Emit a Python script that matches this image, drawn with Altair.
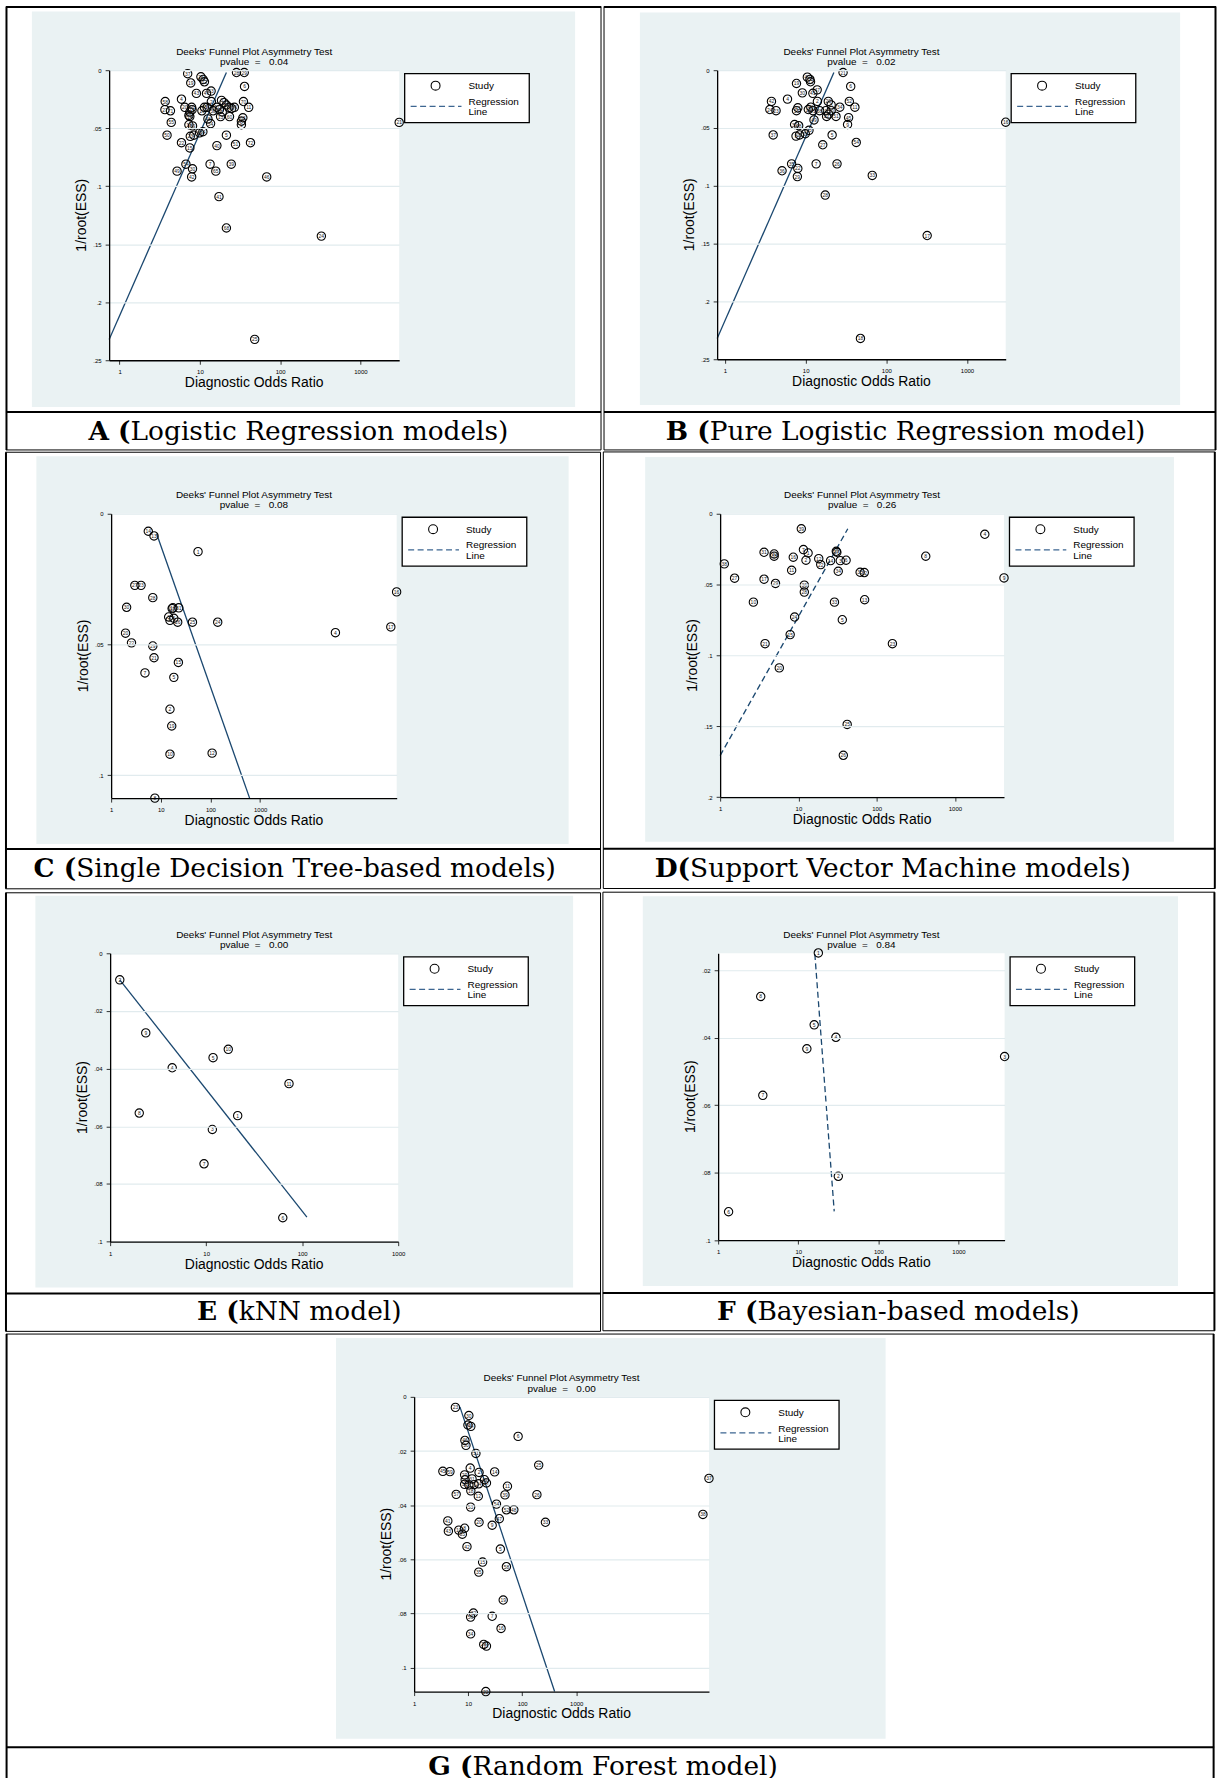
import altair as alt
import pandas as pd

# ------------------------------------------------------------------ data
X_TICKS = [1, 10, 100, 1000]

# A (Logistic Regression models)
A_study = ["37","28","29","26","62","12","19","6","43","53","47","4","58","2","70","3","31","44","10","20",
           "27","71","56","17","61","35","14","16","45","36","38","57","59","1","52","66","11","55","48","34",
           "13","60","63","67","9","18","69","50","23","8","32","64","5","22","72","15","40","51","54","7",
           "39","30","49","65","42","46","41","68","24","25","21"]
A_dor = [7.05,28.6,35.7,10.3,11.0,11.4,7.7,36,9.05,13.8,12.1,5.9,3.7,13.9,34.9,18.6,20.0,21.4,23.0,6.5,
         3.67,4.3,7.9,8.0,7.5,7.3,7.5,10.6,11.4,12.3,14.6,16.3,17.5,19.0,24.9,26.9,40.6,4.4,12.6,13.6,
         18.1,23.4,34.3,32.9,32.9,7.3,8.1,3.9,7.6,8.4,9.9,10.9,21.4,5.9,42.7,7.5,16.3,27.8,6.7,13.4,
         24.6,8.1,5.2,15.8,7.9,68,17.3,21.4,326,48.2,3040]
A_ess = [0.003,0.002,0.002,0.0057,0.008,0.010,0.011,0.014,0.020,0.018,0.020,0.025,0.027,0.027,0.027,0.026,0.028,0.030,0.032,0.032,
         0.034,0.035,0.032,0.034,0.036,0.039,0.040,0.035,0.032,0.032,0.035,0.032,0.034,0.036,0.033,0.032,0.032,0.045,0.042,0.046,
         0.040,0.040,0.041,0.044,0.047,0.047,0.048,0.056,0.057,0.056,0.054,0.053,0.056,0.0625,0.0625,0.067,0.065,0.064,0.081,0.081,
         0.081,0.085,0.087,0.087,0.092,0.092,0.109,0.136,0.143,0.232,0.045]
A_reg_dor = [0.741, 21.4]
A_reg_ess = [0.2322, 0.002]
A_pvalue = "0.04"
A_y_ticks = [0, 0.05, 0.1, 0.15, 0.2, 0.25]

# B (Pure Logistic Regression model)
B_study = ["21","40","10","12","19","6","30","47","41","4","42","2","20","52","3","34","11","24","23","43",
           "15","14","46","31","38","1","44","50","51","32","49","45","9","39","48","37","8","25","53","13",
           "5","54","27","35","7","26","22","36","29","33","28","17","18","16"]
B_dor = [29.1,10.5,11.3,11.5,7.7,36.2,9.1,13.9,12.3,5.96,3.77,14.0,19.1,34.8,20.7,26.5,40.8,3.6,4.3,8.0,
         7.7,10.8,11.6,12.3,14.9,17.8,19.3,20.7,23.8,18.2,12.7,34.1,33.1,7.3,8.2,3.96,7.6,8.4,9.9,11.0,
         21.3,42.4,16.3,6.7,13.5,24.5,8.0,5.1,7.9,67,17.5,321,47.8,3020]
B_ess = [0.002,0.006,0.008,0.010,0.0115,0.014,0.0196,0.017,0.020,0.025,0.027,0.027,0.027,0.027,0.030,0.032,0.032,0.034,0.035,0.0325,
         0.035,0.034,0.032,0.035,0.035,0.035,0.038,0.035,0.040,0.040,0.043,0.041,0.047,0.047,0.048,0.056,0.057,0.056,0.055,0.052,
         0.056,0.0625,0.0645,0.081,0.081,0.081,0.085,0.087,0.092,0.091,0.108,0.143,0.232,0.045]
B_reg_dor = [0.80, 22.4]
B_reg_ess = [0.232, 0.002]
B_pvalue = "0.02"
B_y_ticks = [0, 0.05, 0.1, 0.15, 0.2, 0.25]

# C (Single Decision Tree-based models)
C_study = ["14","13","1","27","23","28","16","30","11","18","31","3","9","6","26","25","24","4","17","20",
           "22","29","21","15","7","5","2","19","10","12","8"]
C_dor = [5.6,7.3,56.2,3.0,4.0,6.9,560000,2.05,16.9,17.5,23.0,14.4,15.3,18.3,21.9,43.4,140,32800,428000,1.95,
         2.57,6.9,7.3,22.6,4.8,18.3,15.3,16.6,15.3,108,7.6]
C_ess = [0.0067,0.0085,0.0145,0.0274,0.0274,0.0321,0.0299,0.0358,0.0363,0.036,0.036,0.0395,0.0408,0.040,0.0415,0.0415,0.0415,0.0455,0.0433,0.0457,
         0.0494,0.0506,0.0551,0.0569,0.0609,0.0626,0.0748,0.0812,0.092,0.0916,0.1088]
C_reg_dor = [8.27, 614]
C_reg_ess = [0.00775, 0.1088]
C_pvalue = "0.08"
C_y_ticks = [0, 0.05, 0.1]

# D (Support Vector Machine models)
D_study = ["39","4","7","1","31","30","18","16","2","12","22","14","37","19","3","6","8","38","11","34",
           "35","32","27","17","29","9","36","28","10","33","13","24","5","15","21","23","20","25","26"]
D_dor = [10.9,2410,11.6,13.3,3.64,4.9,4.9,8.6,12.5,18.2,19.3,25.8,31.0,30.5,34.3,40.7,424,1.13,8.2,32.3,
         61.5,69.5,1.53,3.64,5.1,4240,11.9,11.9,2.66,28.9,70.2,8.95,36.4,7.85,3.75,159,5.7,42,37.5]
D_ess = [0.0106,0.0145,0.0253,0.0277,0.0272,0.0284,0.030,0.0307,0.0328,0.0317,0.0359,0.0331,0.0272,0.0265,0.0331,0.0328,0.030,0.0354,0.0399,0.0406,
         0.0413,0.0415,0.0455,0.0462,0.0492,0.0453,0.0504,0.0553,0.0624,0.0624,0.0607,0.0729,0.0748,0.0853,0.0917,0.0917,0.1088,0.1487,0.1705]
D_reg_dor = [1.0, 42.8]
D_reg_ess = [0.1707, 0.0106]
D_pvalue = "0.26"
D_y_ticks = [0, 0.05, 0.1, 0.15, 0.2]

# E (kNN model)
E_study = ["2","9","10","5","4","11","8","1","3","7","6"]
E_dor = [1.26,2.35,17.0,11.8,4.43,72.9,2.01,21.3,11.6,9.5,62.8]
E_ess = [0.0092,0.0276,0.0333,0.0362,0.0397,0.0452,0.0554,0.0563,0.0611,0.073,0.0917]
E_reg_dor = [1.26, 112]
E_reg_ess = [0.0092, 0.0915]
E_pvalue = "0.00"
E_y_ticks = [0, 0.02, 0.04, 0.06, 0.08, 0.1]

# F (Bayesian-based models)
F_study = ["1","8","5","4","9","3","7","2","6"]
F_dor = [17.8,3.4,15.8,29.5,12.8,3760,3.61,31.6,1.35]
F_ess = [0.0149,0.0278,0.0362,0.0399,0.0433,0.0456,0.0571,0.0811,0.0916]
F_reg_dor = [16.1, 28.1]
F_reg_ess = [0.0152, 0.0915]
F_pvalue = "0.84"
F_y_ticks = [0.02, 0.04, 0.06, 0.08, 0.1]

# G (Random Forest model)
G_study = ["23","30","40","44","6","46","50","51","25","4","45","59","2","14","29","3","31","13","21","1",
           "24","17","49","11","18","57","12","39","26","54","53","52","48","47","41","20","33","9","8","43",
           "10","55","42","5","15","58","35","19","32","56","7","16","34","28","27","22","37","38"]
G_dor = [5.8,10.3,9.9,11.2,84,8.7,9.1,13.9,202,10.9,3.4,4.6,15.9,30.9,8.6,8.8,11.8,8.6,10.3,12.9,
         15.7,21.8,20.0,53.3,11.2,6.0,15.4,48,187,33.4,11.1,51,70,37.7,4.2,15.9,269,27.8,8.6,4.3,
         6.7,7.8,9.5,39.4,18.5,51,15.7,44.5,12.5,11.1,27.8,40.6,11.1,19.4,21.8,21.2,286000,221000]
G_ess = [0.0039,0.0069,0.0104,0.0109,0.0146,0.0161,0.0179,0.0209,0.0252,0.0263,0.0275,0.0276,0.0279,0.0277,0.0288,0.0306,0.0303,0.0323,0.0325,0.0324,
         0.0321,0.0318,0.0306,0.033,0.0347,0.036,0.0367,0.0362,0.0361,0.0396,0.0407,0.0417,0.0417,0.045,0.0458,0.0463,0.0463,0.0474,0.0485,0.0496,
         0.0492,0.0507,0.0553,0.0562,0.061,0.0627,0.0647,0.075,0.0798,0.0813,0.081,0.0855,0.0875,0.0914,0.092,0.1088,0.0301,0.0434]
G_reg_dor = [7.03, 398]
G_reg_ess = [0.0037, 0.1088]
G_pvalue = "0.00"
G_y_ticks = [0, 0.02, 0.04, 0.06, 0.08, 0.1]

# ------------------------------------------------------------------ style
FONT = "Liberation Sans"
SERIF = "DejaVu Serif"
NAVY = "#1a476f"
BG = "#eaf2f3"
GRID = "#e1ebee"
CAP_SIZE = 26.5
NB = "\u00a0"


def one():
    return alt.Data(values=[{"k": 0}])


def rule(x0, y0, x1=None, y1=None, width=1.0, color="black", dash=None):
    kw = {"color": color, "strokeWidth": width}
    if dash is not None:
        kw["strokeDash"] = dash
    enc = {"x": alt.value(x0), "y": alt.value(y0)}
    if x1 is not None:
        enc["x2"] = alt.value(x1)
    if y1 is not None:
        enc["y2"] = alt.value(y1)
    return alt.Chart(one()).mark_rule(**kw).encode(**enc)


def rect(x0, x1, y0, y1, fill, stroke=None, sw=0.0, opacity=1):
    kw = {"fill": fill, "opacity": opacity}
    if stroke is not None:
        kw["stroke"] = stroke
        kw["strokeWidth"] = sw
    return alt.Chart(one()).mark_rect(**kw).encode(
        x=alt.value(x0), x2=alt.value(x1), y=alt.value(y0), y2=alt.value(y1))


def text(x, y, s, size, font=FONT, align="center", weight="normal", angle=0):
    return alt.Chart(one()).mark_text(
        text=s, font=font, fontSize=size, align=align, baseline="middle",
        fontWeight=weight, angle=angle, color="black").encode(x=alt.value(x), y=alt.value(y))


def panel(geo, study, dor, ess, reg_dor, reg_ess, xdom, ydom, yticks, pvalue, dashed, cap_bold, cap_rest):
    px, py, w, h = geo["plot"]

    def X(v):
        return v - px

    def Y(v):
        return v - py

    cx0, cx1, cy0, cy1 = geo["cell"]
    outer = geo["outer"]
    layers = [rect(X(cx0), X(cx1), Y(cy0), Y(cy1), "white")]
    # cell borders
    if "l" in outer:
        layers.append(rule(X(cx0 + 0.5), Y(cy0), y1=Y(cy1), width=2))
    else:
        layers.append(rule(X(cx0), Y(cy0), y1=Y(cy1), width=1))
    if "r" in outer:
        layers.append(rule(X(cx1 - 0.5), Y(cy0), y1=Y(cy1), width=2))
    else:
        layers.append(rule(X(cx1), Y(cy0), y1=Y(cy1), width=1))
    if "t" in outer:
        layers.append(rule(X(cx0), Y(cy0 + 0.5), x1=X(cx1), width=2))
    else:
        layers.append(rule(X(cx0), Y(cy0), x1=X(cx1), width=1))
    if not geo.get("open_bottom"):
        layers.append(rule(X(cx0), Y(cy1), x1=X(cx1), width=1))
    layers.append(rule(X(cx0), Y(geo["divider"]), x1=X(cx1), width=2))

    # graph region + plot region
    gx0, gx1, gy0, gy1 = geo["grey"]
    layers.append(rect(X(gx0), X(gx1), Y(gy0), Y(gy1), BG))
    layers.append(rect(0, w, 0, h, "white"))

    xaxis = alt.Axis(values=X_TICKS, format="d", title=None, grid=False,
                     domainColor="black", domainWidth=1.3, tickColor="black", tickSize=4,
                     tickWidth=0.8, labelFont=FONT, labelFontSize=6, labelColor="black",
                     labelPadding=4.5, labelFlush=False, labelOverlap=False, zindex=1)
    yaxis = alt.Axis(values=yticks,
                     labelExpr="datum.value == 0 ? '0' : substring(format(datum.value, '~g'), 1)",
                     title=None, grid=True, gridColor=GRID, gridWidth=1.2,
                     domainColor="black", domainWidth=1.3, tickColor="black", tickSize=4,
                     tickWidth=0.8, labelFont=FONT, labelFontSize=6, labelColor="black",
                     labelPadding=4, labelAngle=0, labelFlush=False, labelOverlap=False, zindex=1)
    xenc = alt.X("dor:Q", scale=alt.Scale(type="log", domain=xdom, nice=False), axis=xaxis)
    yenc = alt.Y("ess:Q", scale=alt.Scale(domain=ydom, reverse=True, nice=False, zero=False), axis=yaxis)

    df = pd.DataFrame({"dor": dor, "ess": ess, "study": study})
    reg = pd.DataFrame({"dor": reg_dor, "ess": reg_ess})
    line_kw = {"color": NAVY, "strokeWidth": 1.3}
    if dashed:
        line_kw["strokeDash"] = [6, 3.5]
    layers.append(alt.Chart(reg).mark_line(**line_kw).encode(x=xenc, y=yenc))
    layers.append(alt.Chart(df).mark_point(shape="circle", filled=False, color="black",
                                           size=70, strokeWidth=1.1, opacity=1).encode(x=xenc, y=yenc))
    layers.append(alt.Chart(df).mark_text(font=FONT, fontSize=5, color="#222").encode(
        x=xenc, y=yenc, text="study:N"))

    # titles
    layers.append(text(w / 2, -18.4, "Deeks' Funnel Plot Asymmetry Test", 10))
    layers.append(text(w / 2, -8.3, "pvalue" + NB * 2 + "=" + NB * 3 + pvalue, 10))
    layers.append(text(-27.7, h / 2, "1/root(ESS)", 14, angle=270))
    layers.append(text(w / 2, h + 23, "Diagnostic Odds Ratio", 14))

    # legend
    lx0, lx1, ly0, ly1 = w + 5.5, w + 130.5, 3.5, 52.5
    layers.append(rect(lx0, lx1, ly0, ly1, "white", stroke="black", sw=1.3))
    layers.append(alt.Chart(one()).mark_point(shape="circle", filled=False, color="black",
                                              size=80, strokeWidth=1.1, opacity=1).encode(
        x=alt.value(lx0 + 31), y=alt.value(ly0 + 12)))
    layers.append(text(lx0 + 64, ly0 + 12.5, "Study", 10, align="left"))
    layers.append(rule(lx0 + 6, ly0 + 32.7, x1=lx0 + 57, width=1.3, color="#3d6691", dash=[6, 3.5]))
    layers.append(text(lx0 + 64, ly0 + 28.3, "Regression", 10, align="left"))
    layers.append(text(lx0 + 64, ly0 + 38.6, "Line", 10, align="left"))

    # caption
    sx, sy = geo["cap"]
    layers.append(text(X(sx), Y(sy), cap_bold, CAP_SIZE, font=SERIF, align="right", weight="bold"))
    layers.append(text(X(sx), Y(sy), cap_rest, CAP_SIZE, font=SERIF, align="left"))

    return alt.layer(*layers).properties(width=w, height=h)


def spacer():
    # 1 px invisible column so that every row starts at the same origin
    return rect(0, 1, 0, 1, "white", opacity=0).properties(width=1, height=1)


GEO = {
    "A": dict(plot=(108.5, 70, 291, 291), grey=(31, 576, 11, 408), cell=(5, 602, 6, 451),
              outer="tl", divider=413, cap=(130, 433)),
    "B": dict(plot=(716.5, 70, 289.5, 290), grey=(639, 1181, 12, 406), cell=(603, 1217, 6, 451),
              outer="tr", divider=413, cap=(709, 433)),
    "C": dict(plot=(111, 513.7, 286.5, 285.3), grey=(36, 570, 456, 845), cell=(5, 602, 452, 890),
              outer="l", divider=850, cap=(76, 870)),
    "D": dict(plot=(720.2, 514, 284.8, 284.3), grey=(645, 1175.5, 457, 843), cell=(603, 1217, 452, 890),
              outer="r", divider=850, cap=(690, 870)),
    "E": dict(plot=(110, 951.7, 289, 289.3), grey=(35, 574.5, 894, 1287), cell=(5, 602, 891, 1331),
              outer="l", divider=1293, cap=(239, 1312)),
    "F": dict(plot=(718.6, 952.3, 287.4, 287.7), grey=(643, 1180, 895, 1286), cell=(603, 1217, 891, 1331),
              outer="r", divider=1293, cap=(758, 1312)),
    "G": dict(plot=(414.4, 1395, 295.8, 295.7), grey=(336, 887.4, 1336, 1738), cell=(5, 1217, 1332, 1778),
              outer="lr", divider=1746.5, cap=(473, 1766), open_bottom=True),
}

pA = panel(GEO["A"], A_study, A_dor, A_ess, A_reg_dor, A_reg_ess, [0.741, 3040], [0, 0.25], A_y_ticks,
           A_pvalue, False, "A (", "Logistic Regression models)")
pB = panel(GEO["B"], B_study, B_dor, B_ess, B_reg_dor, B_reg_ess, [0.80, 3020], [0, 0.25], B_y_ticks,
           B_pvalue, False, "B (", "Pure Logistic Regression model)")
pC = panel(GEO["C"], C_study, C_dor, C_ess, C_reg_dor, C_reg_ess, [1, 562000], [0, 0.1088], C_y_ticks,
           C_pvalue, False, "C (", "Single Decision Tree-based models)")
pD = panel(GEO["D"], D_study, D_dor, D_ess, D_reg_dor, D_reg_ess, [1, 4240], [0, 0.2], D_y_ticks,
           D_pvalue, True, "D(", "Support Vector Machine models)")
pE = panel(GEO["E"], E_study, E_dor, E_ess, E_reg_dor, E_reg_ess, [1, 1000], [0, 0.1], E_y_ticks,
           E_pvalue, False, "E (", "kNN model)")
pF = panel(GEO["F"], F_study, F_dor, F_ess, F_reg_dor, F_reg_ess, [1, 3760], [0.015, 0.1], F_y_ticks,
           F_pvalue, True, "F (", "Bayesian-based models)")
pG = panel(GEO["G"], G_study, G_dor, G_ess, G_reg_dor, G_reg_ess, [1, 286000], [0, 0.1088], G_y_ticks,
           G_pvalue, False, "G (", "Random Forest model)")

chart = alt.vconcat(
    alt.hconcat(spacer(), pA, pB, spacing=0),
    alt.hconcat(spacer(), pC, pD, spacing=0),
    alt.hconcat(spacer(), pE, pF, spacing=0),
    alt.hconcat(spacer(), pG, spacing=0),
    spacing=0,
).properties(
    padding={"left": 3.5, "top": 2.5, "right": 1.5, "bottom": 0},
    background="white",
).configure_view(stroke=None)

chart.save("out.html", embed_options={"renderer": "svg", "actions": False})
